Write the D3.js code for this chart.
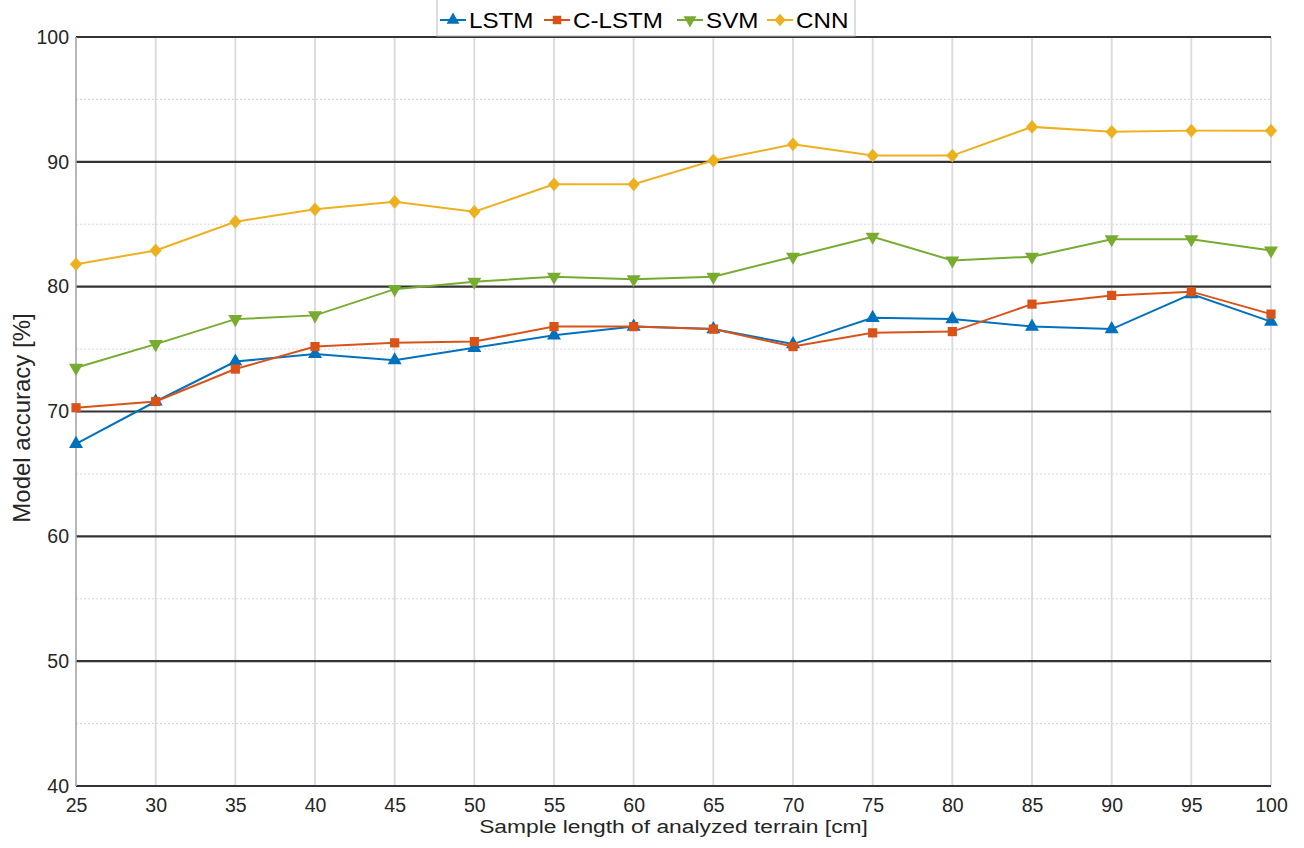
<!DOCTYPE html>
<html>
<head>
<meta charset="utf-8">
<script src="https://cdn.jsdelivr.net/npm/d3@7"></script>
<style>
  body { margin: 0; background: #fff; }
  text { font-family: "Liberation Sans", Arial, sans-serif; }
</style>
</head>
<body>
<div class="chart"></div>
<script>
const margin = ({top: 37, right: 33, bottom: 62, left: 76});
const width = 1304 - margin.left - margin.right;
const height = 848 - margin.top - margin.bottom;

// data
const lengths = [25, 30, 35, 40, 45, 50, 55, 60, 65, 70, 75, 80, 85, 90, 95, 100];
const lstm  = [67.4, 70.8, 74.0, 74.6, 74.1, 75.1, 76.1, 76.8, 76.6, 75.4, 77.5, 77.4, 76.8, 76.6, 79.4, 77.2];
const clstm = [70.3, 70.8, 73.4, 75.2, 75.5, 75.6, 76.8, 76.8, 76.6, 75.2, 76.3, 76.4, 78.6, 79.3, 79.6, 77.8];
const svm   = [73.5, 75.4, 77.4, 77.7, 79.8, 80.4, 80.8, 80.6, 80.8, 82.4, 84.0, 82.1, 82.4, 83.8, 83.8, 82.9];
const cnn   = [81.8, 82.9, 85.2, 86.2, 86.8, 86.0, 88.2, 88.2, 90.1, 91.4, 90.5, 90.5, 92.8, 92.4, 92.5, 92.5];
const yTicks = [40, 50, 60, 70, 80, 90, 100];
const yMinor = [45, 55, 65, 75, 85, 95];

const series = [
  {name: "LSTM", values: lstm, color: "#0072BD", symbol: "up"},
  {name: "C-LSTM", values: clstm, color: "#D95319", symbol: "square"},
  {name: "SVM", values: svm, color: "#77AC30", symbol: "down"},
  {name: "CNN", values: cnn, color: "#EDB120", symbol: "diamond"}
];

const x = d3.scaleLinear().domain([25, 100]).range([0, width]);
const y = d3.scaleLinear().domain([40, 100]).range([height, 0]);

const svg = d3.select('.chart').append('svg')
    .attr("width", 1304)
    .attr("height", 848);

const g = svg.append("g")
    .attr("transform", "translate(" + margin.left + "," + margin.top + ")");

// vertical grid
g.selectAll('.vgrid')
    .data(lengths)
    .enter().append('line')
    .attr('x1', d => x(d)).attr('x2', d => x(d))
    .attr('y1', 0).attr('y2', height)
    .attr('stroke', '#dadada')
    .attr('stroke-width', 1.8);

// minor dotted horizontal grid
g.selectAll('.mgrid')
    .data(yMinor)
    .enter().append('line')
    .attr('x1', 0).attr('x2', width)
    .attr('y1', d => y(d)).attr('y2', d => y(d))
    .attr('stroke', '#d6d6d6')
    .attr('stroke-width', 1)
    .attr('stroke-dasharray', '2,2');

// major horizontal lines
g.selectAll('.hgrid')
    .data(yTicks)
    .enter().append('line')
    .attr('x1', 0).attr('x2', width)
    .attr('y1', d => y(d)).attr('y2', d => y(d))
    .attr('stroke', '#333')
    .attr('stroke-width', 2.2);

// left axis line
g.append('line')
    .attr('x1', 0).attr('x2', 0)
    .attr('y1', 0).attr('y2', height)
    .attr('stroke', '#aaa')
    .attr('stroke-width', 1.5);

const xAxis = d3.axisBottom(x).tickValues(lengths).tickSize(0).tickPadding(12);
const yAxis = d3.axisLeft(y).tickValues(yTicks).tickSize(0).tickPadding(7);

const xg = g.append('g').attr('transform', `translate(0,${height})`).call(xAxis);
const yg = g.append('g').call(yAxis);
[xg, yg].forEach(a => {
  a.select('.domain').remove();
  a.selectAll('text')
    .style('font-size', '19.5px')
    .style('font-family', '"Liberation Sans", Arial, sans-serif')
    .attr('fill', '#262626');
});

// axis titles
svg.append('text')
    .attr('transform', `translate(${margin.left + width / 2},833) scale(1.2,1)`)
    .attr('text-anchor', 'middle')
    .style('font-size', '19px')
    .attr('fill', '#262626')
    .text('Sample length of analyzed terrain [cm]');

svg.append('text')
    .attr('transform', `translate(30,${418}) rotate(-90)`)
    .attr('text-anchor', 'middle')
    .style('font-size', '24px')
    .attr('fill', '#262626')
    .text('Model accuracy [%]');

const symbolType = {
  up: d3.symbolTriangle,
  down: d3.symbolTriangle,
  square: d3.symbolSquare,
  diamond: d3.symbolSquare
};
const symbolSize = {up: 85, down: 85, square: 85, diamond: 95};

function markTransform(kind) {
  if (kind === 'down') return ' rotate(180)';
  if (kind === 'diamond') return ' scale(0.88,1) rotate(45)';
  return '';
}

const line = d3.line()
    .x((d, i) => x(lengths[i]))
    .y(d => y(d));

series.forEach(s => {
  g.append('path')
    .datum(s.values)
    .attr('fill', 'none')
    .attr('stroke', s.color)
    .attr('stroke-width', 2)
    .attr('d', line);

  const sym = d3.symbol().type(symbolType[s.symbol]).size(symbolSize[s.symbol]);
  g.selectAll('.m-' + s.symbol)
    .data(s.values)
    .enter().append('path')
    .attr('d', sym)
    .attr('fill', s.color)
    .attr('transform', (d, i) => `translate(${x(lengths[i])},${y(d)})` + markTransform(s.symbol));
});

// legend
const legend = svg.append('g');
legend.append('rect')
    .attr('x', 437).attr('y', -2)
    .attr('width', 418).attr('height', 38)
    .attr('fill', '#fff')
    .attr('stroke', '#bbb')
    .attr('stroke-width', 1);

const legendLineX = [440, 544, 677, 767];
series.forEach((s, i) => {
  const lg = legend.append('g').attr('transform', `translate(${legendLineX[i]},20)`);
  lg.append('line')
    .attr('x1', 0).attr('x2', 26)
    .attr('stroke', s.color).attr('stroke-width', 2);
  const sym = d3.symbol().type(symbolType[s.symbol]).size(symbolSize[s.symbol] * 0.85);
  lg.append('path')
    .attr('d', sym)
    .attr('fill', s.color)
    .attr('transform', `translate(13,0)` + markTransform(s.symbol));
  lg.append('text')
    .attr('transform', 'translate(29,8) scale(1.1,1)')
    .style('font-size', '22px')
    .attr('fill', '#000')
    .text(s.name);
});
</script>
</body>
</html>
